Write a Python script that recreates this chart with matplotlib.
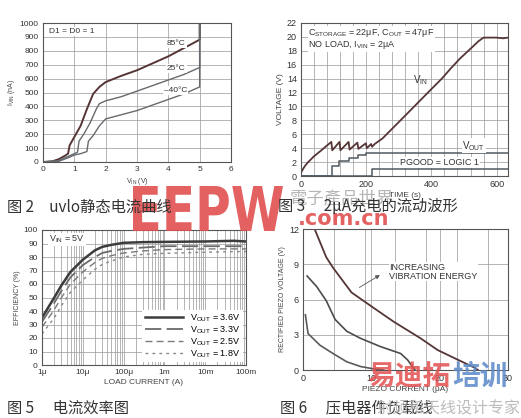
import numpy as np
import matplotlib
matplotlib.use('Agg')
import matplotlib.pyplot as plt
from matplotlib.ticker import FixedLocator, NullFormatter
from matplotlib.textpath import TextPath
from matplotlib.patches import PathPatch
from matplotlib.font_manager import FontProperties
from matplotlib.transforms import Affine2D, IdentityTransform

plt.rcParams['font.family'] = ['Liberation Sans', 'Noto Sans CJK SC', 'DejaVu Sans']
plt.rcParams['axes.unicode_minus'] = False

# ---- fig 2: uvlo quiescent current
vin_85 = [0, 0.3, 0.5, 0.7, 0.8, 0.85, 1.0, 1.2, 1.4, 1.6, 1.8, 2.0, 2.5, 3.0, 3.5, 4.0, 4.5, 5.0, 5.0]
i_85 = [0, 5, 20, 45, 60, 120, 180, 260, 380, 490, 540, 575, 620, 660, 710, 760, 820, 880, 1000]
vin_25 = [0, 0.5, 0.8, 1.0, 1.1, 1.15, 1.3, 1.5, 1.7, 1.8, 2.0, 2.5, 3.0, 3.5, 4.0, 4.5, 5.0, 5.0]
i_25 = [0, 10, 40, 60, 70, 150, 200, 280, 380, 420, 440, 470, 510, 550, 590, 630, 680, 1000]
vin_m40 = [0, 0.5, 0.8, 1.0, 1.2, 1.4, 1.45, 1.6, 1.8, 2.0, 2.5, 3.0, 3.5, 4.0, 4.5, 5.0, 5.0]
i_m40 = [0, 5, 30, 50, 60, 75, 150, 190, 260, 310, 340, 370, 410, 450, 490, 540, 1000]

# ---- fig 3: 2uA charging waveform
vin_t = [0, 10, 20, 39, 60, 80, 93, 96, 118, 121, 146, 149, 173, 176, 199, 202, 215, 218,
         226, 250, 284, 320, 360, 400, 432, 460, 488, 520, 545, 560, 600, 620, 635]
vin_v = [0.5, 1.3, 1.9, 2.8, 3.6, 4.4, 4.9, 3.7, 4.9, 3.7, 4.9, 3.8, 4.8, 3.9, 4.7, 4.0, 4.6, 4.2,
         4.6, 5.4, 7.0, 8.7, 10.6, 12.5, 14.0, 15.5, 16.9, 18.3, 19.4, 19.9, 19.9, 19.8, 19.9]
vout_t = [0, 95, 95, 118, 118, 146, 146, 174, 174, 200, 200, 220, 220, 635]
vout_v = [0, 0, 1.4, 1.4, 2.1, 2.1, 2.65, 2.65, 3.0, 3.0, 3.25, 3.25, 3.35, 3.35]
pg_t = [0, 217, 217, 635]
pg_v = [0, 0, 1.0, 1.0]

# ---- fig 5: efficiency
load = [1e-6, 2e-6, 3e-6, 5e-6, 1e-5, 2e-5, 3e-5, 5e-5, 1e-4, 3e-4, 1e-3, 1e-2, 5e-2, 1e-1]
eff_36 = [35, 50, 59, 69, 78, 85, 87.5, 89, 90.5, 91, 91.2, 91.5, 92, 91.5]
eff_33 = [32, 46, 55, 65, 74, 80, 83, 84.5, 86, 87, 88, 88, 88, 88]
eff_25 = [28, 41, 50, 60, 69, 76, 79, 81, 83, 84.5, 85.5, 86, 86, 86]
eff_18 = [23, 35, 44, 54, 63, 71, 74.5, 77, 80, 82, 82.7, 83.5, 84, 84]
eff_labels = ['3.6V', '3.3V', '2.5V', '1.8V']

# ---- fig 6: piezo load lines
pz_i1 = [1.7, 3.4, 4.4, 7.1, 10.3, 13.3, 17.2, 19.7, 22.2, 25.1, 25.6]
pz_v1 = [12.0, 9.6, 8.7, 6.6, 5.3, 4.1, 2.7, 1.7, 1.0, 0.2, 0.0]
pz_i2 = [0.6, 2.0, 3.4, 4.7, 6.4, 8.4, 11.3, 14.3, 15.3, 16.0, 16.4]
pz_v2 = [8.0, 7.1, 5.9, 4.3, 3.3, 2.7, 2.0, 1.4, 0.86, 0.3, 0.0]
pz_i3 = [0.35, 0.74, 2.5, 4.4, 6.4, 8.4, 10.3, 11.8]
pz_v3 = [4.7, 3.1, 2.1, 1.4, 0.7, 0.3, 0.1, 0.0]

W, H = 521, 418
fig = plt.figure(figsize=(W / 100, H / 100), dpi=100)
fig.patch.set_facecolor('white')


def px_axes(l, t, r, b):
    return fig.add_axes([l / W, 1 - b / H, (r - l) / W, (b - t) / H])


def style(ax):
    for s in ax.spines.values():
        s.set_color('#555555')
        s.set_linewidth(0.8)
    ax.tick_params(which='both', length=0, labelsize=6, colors='#333333', pad=3)
    ax.set_axisbelow(True)


GRID = dict(color='#a0a0a0', linewidth=0.55)
BROWN = '#553536'
GREY = '#666a6e'

# fig 2
ax1 = px_axes(43, 23, 231, 162)
style(ax1)
ax1.plot(vin_85, i_85, color=BROWN, lw=1.4)
ax1.plot(vin_25, i_25, color=GREY, lw=1.0)
ax1.plot(vin_m40, i_m40, color=GREY, lw=1.0)
ax1.set_xlim(0, 6)
ax1.set_ylim(0, 1000)
ax1.set_xticks(range(0, 7))
ax1.set_yticks(range(0, 1001, 100))
ax1.grid(True, **GRID)
ax1.set_xlabel('V$_{\\mathregular{IN}}$ (V)', fontsize=5, color='#444', labelpad=2)
ax1.set_ylabel('I$_{\\mathregular{VIN}}$ (nA)', fontsize=5, color='#444', labelpad=2)
bb = dict(facecolor='white', edgecolor='none', pad=0.8)
ax1.text(0.2, 965, 'D1 = D0 = 1', fontsize=6, color='#333', va='top', bbox=bb)
ax1.text(3.95, 855, '85°C', fontsize=6, color='#333', va='center', bbox=bb)
ax1.text(3.95, 672, '25°C', fontsize=6, color='#333', va='center', bbox=bb)
ax1.text(3.85, 517, '–40°C', fontsize=6, color='#333', va='center', bbox=bb)

# fig 3
ax2 = px_axes(301, 23, 508, 176)
style(ax2)
ax2.plot(vin_t, vin_v, color=BROWN, lw=1.3)
ax2.plot(vout_t, vout_v, color='#4f5a62', lw=1.1)
ax2.plot(pg_t, pg_v, color='#4f5a62', lw=1.1)
ax2.set_xlim(0, 635)
ax2.set_ylim(0, 22)
ax2.set_xticks([0, 200, 400, 600])
ax2.xaxis.set_minor_locator(FixedLocator(np.arange(40, 635, 40)))
ax2.set_yticks(range(0, 23, 2))
ax2.grid(True, which='both', **GRID)
ax2.tick_params(labelsize=6.5)
ax2.set_xlabel('TIME (s)', fontsize=6, color='#444', labelpad=2)
ax2.set_ylabel('VOLTAGE (V)', fontsize=6, color='#444', labelpad=2)
ax2.text(0.035, 0.975,
         'C$_{\\mathregular{STORAGE}}$ = 22μF, C$_{\\mathregular{OUT}}$ = 47μF\n'
         'NO LOAD, I$_{\\mathregular{VIN}}$ = 2μA',
         transform=ax2.transAxes, fontsize=6.5, color='#333', va='top', linespacing=0.95,
         bbox=dict(facecolor='white', edgecolor='none', pad=0.5))
ax2.text(365, 13.8, 'V$_{\\mathregular{IN}}$', fontsize=7, color='#333', ha='center', va='center')
ax2.text(530, 4.35, 'V$_{\\mathregular{OUT}}$', fontsize=7, color='#333', ha='center', va='center',
         bbox=dict(facecolor='white', edgecolor='none', pad=0.3))
ax2.text(425, 1.95, 'PGOOD = LOGIC 1', fontsize=6.5, color='#333', ha='center', va='center',
         bbox=dict(facecolor='white', edgecolor='none', pad=0.6))

# fig 5
ax3 = px_axes(42, 230, 246, 365)
style(ax3)
ax3.set_xscale('log')
ax3.plot(load, eff_36, color='#3c3c3c', lw=1.8, ls='-', label='V$_{\\mathregular{OUT}}$ = ' + eff_labels[0])
ax3.plot(load, eff_33, color='#6a6a6a', lw=1.3, ls=(0, (9, 3)), label='V$_{\\mathregular{OUT}}$ = ' + eff_labels[1])
ax3.plot(load, eff_25, color='#7a7a7a', lw=1.0, ls=(0, (5, 3)), label='V$_{\\mathregular{OUT}}$ = ' + eff_labels[2])
ax3.plot(load, eff_18, color='#888888', lw=1.0, ls=(0, (2, 3)), label='V$_{\\mathregular{OUT}}$ = ' + eff_labels[3])
ax3.set_xlim(1e-6, 1e-1)
ax3.set_ylim(0, 100)
ax3.set_xticks([1e-6, 1e-5, 1e-4, 1e-3, 1e-2, 1e-1])
ax3.set_xticklabels(['1μ', '10μ', '100μ', '1m', '10m', '100m'])
ax3.xaxis.set_minor_formatter(NullFormatter())
ax3.set_yticks(range(0, 101, 10))
ax3.grid(True, which='both', **GRID)
ax3.set_xlabel('LOAD CURRENT (A)', fontsize=6, color='#444', labelpad=2)
ax3.set_ylabel('EFFICIENCY (%)', fontsize=5, color='#444', labelpad=2)
ax3.text(0.035, 0.975, 'V$_{\\mathregular{IN}}$ = 5V', transform=ax3.transAxes, fontsize=6.5,
         color='#333', va='top', bbox=dict(facecolor='white', edgecolor='none', pad=0.5))
leg = ax3.legend(loc='lower right', fontsize=6.5, handlelength=4.2, frameon=True, fancybox=False,
                 borderaxespad=0.3, labelspacing=0.05, borderpad=0.3, handletextpad=0.8)
leg.get_frame().set_edgecolor('none')
leg.get_frame().set_facecolor('white')
leg.get_frame().set_alpha(1)

# fig 6
ax4 = px_axes(303, 229, 508, 370)
style(ax4)
ax4.plot(pz_i1, pz_v1, color=BROWN, lw=1.3)
ax4.plot(pz_i2, pz_v2, color='#4e4a4c', lw=1.2)
ax4.plot(pz_i3, pz_v3, color='#5a5a5a', lw=1.2)
ax4.set_xlim(0, 30)
ax4.set_ylim(0, 12)
ax4.set_xticks([0, 10, 20, 30])
ax4.xaxis.set_minor_locator(FixedLocator(np.arange(4.5, 30, 4.5)))
ax4.set_yticks([0, 3, 6, 9, 12])
ax4.grid(True, which='both', **GRID)
ax4.tick_params(labelsize=6.5)
ax4.set_xlabel('PIEZO CURRENT (μA)', fontsize=6, color='#444', labelpad=2)
ax4.set_ylabel('RECTIFIED PIEZO VOLTAGE (V)', fontsize=5, color='#444', labelpad=2)
ax4.annotate('', xy=(11.6, 8.2), xytext=(7.9, 6.9),
             arrowprops=dict(arrowstyle='-|>', color='#555', lw=0.6, mutation_scale=6))
ax4.text(12.6, 8.35, 'INCREASING\nVIBRATION ENERGY', fontsize=6.5, color='#333', va='center',
         linespacing=1.0, bbox=dict(facecolor='white', edgecolor='none', pad=0.3))

# watermarks
# the big "EEPW" is a condensed logo: draw its outline squeezed into its box
tp = TextPath((0, 0), 'EEPW', size=50, prop=FontProperties(family='DejaVu Sans', weight='bold'))
ext = tp.get_extents()
box_l, box_r, box_t, box_b = 133, 283, 186, 231
sx = (box_r - box_l) / ext.width
sy = (box_b - box_t) / ext.height
logo_tr = (Affine2D().translate(-ext.x0, -ext.y0).scale(sx, sy)
           .translate(box_l, H - box_b) + IdentityTransform())
logo = PathPatch(tp, facecolor='#e25050', edgecolor='none', alpha=0.9, transform=logo_tr)
logo.set_zorder(3)
fig.add_artist(logo)

fig.text(290 / W, 1 - 198 / H, '電子產品世界', fontsize=12.5, color='#b5b5b5', va='center',
         family=['Noto Sans CJK TC'], style='italic')
fig.text(298 / W, 1 - 219 / H, '.com.cn', fontsize=15, weight='bold', color='#e25050', alpha=0.9,
         va='center', family=['DejaVu Sans'])
fig.text(367 / W, 1 - 377 / H, '易迪拓', fontsize=20, weight='bold', color='#e25050', alpha=0.85,
         va='center', family=['Noto Sans CJK SC'])
fig.text(452 / W, 1 - 377 / H, '培训', fontsize=20, weight='bold', color='#5b88c8', alpha=0.85,
         va='center', family=['Noto Sans CJK SC'])

# captions
cap = dict(fontsize=11, color='#333333', va='center', family=['Noto Sans CJK SC', 'DejaVu Sans'])
fig.text(7 / W, 1 - 207 / H, '图 2\u3000uvlo静态电流曲线', **cap)
fig.text(278 / W, 1 - 207 / H, '图 3\u3000 2μA充电的流动波形', **cap)
fig.text(7 / W, 1 - 408 / H, '图 5\u3000 电流效率图', **cap)
fig.text(280 / W, 1 - 408 / H, '图 6\u3000 压电器件负载线', **cap)
fig.text(376 / W, 1 - 409 / H, '射频和天线设计专家', fontsize=11.5, color='#b0b0b0', alpha=0.85,
         va='center', family=['Noto Sans CJK SC'])

fig.savefig('out.png', dpi=100)
